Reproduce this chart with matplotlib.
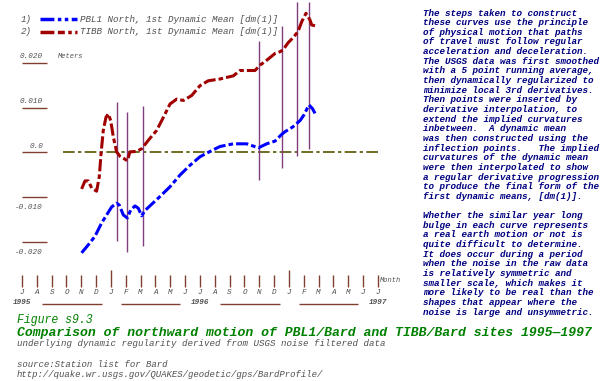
import matplotlib.pyplot as plt
import matplotlib.transforms as mtransforms
from matplotlib.lines import Line2D

# --- data (months counted from Jul 1995 = 0, values in meters) ---
pbl1_m = [4.02, 4.47, 4.92, 5.37, 5.71, 6.05, 6.38, 6.56, 6.83, 7.10, 7.33, 7.62,
          7.84, 8.07, 8.30, 8.75, 9.30, 9.98, 10.65, 11.33, 12.0, 12.68, 13.35,
          14.25, 15.15, 15.94, 16.5, 17.06, 17.51, 17.73, 18.27, 18.75, 19.0,
          19.35, 19.58, 19.76]
pbl1_v = [-0.0225, -0.0207, -0.0188, -0.0158, -0.0140, -0.0122, -0.0114, -0.0118,
          -0.0140, -0.0147, -0.0129, -0.0120, -0.0125, -0.0142, -0.0130, -0.0116,
          -0.0099, -0.0077, -0.0051, -0.0029, -0.0010, 0.0002, 0.0013, 0.0019,
          0.0019, 0.0010, 0.0019, 0.0025, 0.0040, 0.0046, 0.0057, 0.0071, 0.0083,
          0.0106, 0.0098, 0.0087]

tibb_m = [4.02, 4.25, 4.47, 4.70, 5.03, 5.21, 5.33, 5.48, 5.66, 5.82, 5.98, 6.16,
          6.38, 6.61, 6.88, 7.10, 7.28, 7.73, 8.07, 8.52, 9.08, 9.53, 9.98, 10.43,
          10.88, 11.44, 12.0, 12.56, 13.35, 14.25, 14.7, 15.71, 16.05, 16.39,
          17.06, 17.4, 17.6, 17.94, 18.27, 18.61, 18.86, 19.15, 19.42, 19.53, 19.76]
tibb_v = [-0.0082, -0.0064, -0.0064, -0.0080, -0.0087, -0.0055, -0.0003, 0.0049,
          0.0078, 0.0086, 0.0071, 0.0034, 0.0001, -0.0009, -0.0014, -0.0019,
          0.0001, 0.0002, 0.0008, 0.0027, 0.0049, 0.0078, 0.0108, 0.0119, 0.0116,
          0.0127, 0.0149, 0.0160, 0.0164, 0.0171, 0.0183, 0.0183, 0.0195, 0.0203,
          0.0221, 0.0225, 0.0229, 0.0245, 0.0256, 0.0270, 0.0292, 0.0311, 0.0296,
          0.0285, 0.0283]

# inflection markers
mark_m = [6.43, 7.10, 8.14, 16.0, 17.55, 18.56, 19.33]
mark_top = [0.0113, 0.0091, 0.0104, 0.0249, 0.0282, 0.0337, 0.0337]
mark_bot = [-0.0199, -0.0224, -0.0210, -0.0062, -0.0035, -0.0008, 0.0007]

month_labels = list("JASONDJFMAMJJASONDJFMAMJJ")
month_pos = list(range(len(month_labels)))
jan_pos = [6, 18]
years = ["1995", "1996", "1997"]
year_pos = [0, 12, 24]

ytick_vals = [0.02, 0.01, 0.0, -0.01, -0.02]
ytick_labels = ["0.020", "0.010", "0.0", "-0.010", "-0.020"]

note_lines = [
    "The steps taken to construct",
    "these curves use the principle",
    "of physical motion that paths",
    "of travel must follow regular",
    "acceleration and deceleration.",
    "The USGS data was first smoothed",
    "with a 5 point running average,",
    "then dynamically regularized to",
    "minimize local 3rd derivatives.",
    "Then points were inserted by",
    "derivative interpolation, to",
    "extend the implied curvatures",
    "inbetween.  A dynamic mean",
    "was then constructed using the",
    "inflection points.   The implied",
    "curvatures of the dynamic mean",
    "were then interpolated to show",
    "a regular derivative progression",
    "to produce the final form of the",
    "first dynamic means, [dm(1)].",
    "",
    "Whether the similar year long",
    "bulge in each curve represents",
    "a real earth motion or not is",
    "quite difficult to determine.",
    "It does occur during a period",
    "when the noise in the raw data",
    "is relatively symmetric and",
    "smaller scale, which makes it",
    "more likely to be real than the",
    "shapes that appear where the",
    "noise is large and unsymmetric.",
]

W, H = 613, 381
FONT = "Liberation Mono"
BROWN = "#804030"
GRAY = "#505050"
PURPLE = "#7f3f7f"


def fx(px):
    return px / W


def fy(py):
    return 1 - py / H


fig = plt.figure(figsize=(W / 100, H / 100), dpi=100)
ax = fig.add_axes([0, 0, 1, 1])
# pixel mapping: x = 22 + 14.83*month, y = 152.3 - 4470*value
ax.set_xlim(-22 / 14.83, (W - 22) / 14.83)
ax.set_ylim((152.3 - H) / 4470, 152.3 / 4470)
ax.axis("off")

xt = ax.get_xaxis_transform()
yt = ax.get_yaxis_transform()

# zero line
ax.hlines(0, fx(63), fx(380), transform=yt, color="#555500", lw=1.2,
          linestyles=(0, (7, 2, 2, 2)))

# markers
ax.vlines(mark_m, mark_bot, mark_top, color=PURPLE, lw=1.0)

# curves
ax.plot(tibb_m, tibb_v, color="#a00000", lw=2.2, ls=(0, (4, 1, 1.5, 1)))
ax.plot(pbl1_m, pbl1_v, color="#0000ff", lw=2.2, ls=(0, (4, 1, 1.5, 1)))

# y ticks
ax.hlines(ytick_vals, fx(22), fx(47), transform=yt, color=BROWN, lw=1.0)
for v, lab in zip(ytick_vals, ytick_labels):
    dy = 4.5 if v >= 0 else -7.5
    tr = mtransforms.offset_copy(yt, fig=fig, y=dy, units="points")
    ax.text(fx(43), v, lab, transform=tr, ha="right", va="center",
            family=FONT, style="italic", fontsize=5.5, color=GRAY)
ax.text(fx(58), fy(57), "Meters", transform=ax.transAxes, ha="left", va="center",
        family=FONT, style="italic", fontsize=5, color=GRAY)

# month axis
minor = [m for m in month_pos if m not in jan_pos]
ax.vlines(minor, fy(287), fy(275), transform=xt, color=BROWN, lw=1.0)
ax.vlines(jan_pos, fy(287), fy(270), transform=xt, color=BROWN, lw=1.0)
for m, lab in zip(month_pos, month_labels):
    ax.text(m, fy(293), lab, transform=xt, ha="center", va="center",
            family=FONT, style="italic", fontsize=5.5, color=GRAY)
for m, lab in zip(year_pos, years):
    ax.text(m, fy(303), lab, transform=xt, ha="center", va="center",
            family=FONT, style="italic", weight="bold", fontsize=5.5, color=GRAY)
for a, b in [(1.35, 5.4), (6.65, 10.65), (13.35, 17.4), (18.65, 22.65)]:
    ax.hlines(fy(303.5), a, b, transform=xt, color=BROWN, lw=1.0)
ax.text(fx(380), fy(280), "Month", transform=ax.transAxes, ha="left", va="center",
        family=FONT, style="italic", fontsize=5, color=GRAY)

# legend
fig.add_artist(Line2D([fx(40), fx(77)], [fy(19), fy(19)], color="#0000ff", lw=2.5,
                      ls=(0, (4, 1, 1, 1, 1, 1))))
fig.add_artist(Line2D([fx(40), fx(77)], [fy(32), fy(32)], color="#a00000", lw=2.5,
                      ls=(0, (4, 1, 2, 1, 1, 1))))
for py, num, txt in [(19, "1)", "PBL1 North, 1st Dynamic Mean [dm(1)]"),
                     (32, "2)", "TIBB North, 1st Dynamic Mean [dm(1)]")]:
    fig.text(fx(32), fy(py), num, ha="right", va="center", family=FONT,
             style="italic", fontsize=6.7, color=GRAY)
    fig.text(fx(80), fy(py), txt, ha="left", va="center", family=FONT,
             style="italic", fontsize=6.7, color=GRAY)

# notes on the right
for i, line in enumerate(note_lines):
    fig.text(fx(423), fy(13 + i * 9.65), line, ha="left", va="center",
             family=FONT, style="italic", weight="bold", fontsize=6.65,
             color="#000080")

# captions
fig.text(fx(17), fy(320), "Figure s9.3", ha="left", va="center", family=FONT,
         style="italic", fontsize=8.3, color="#008000")
fig.text(fx(17), fy(333), "Comparison of northward motion of PBL1/Bard and "
         "TIBB/Bard sites 1995\u20141997", ha="left", va="center", family=FONT,
         style="italic", weight="bold", fontsize=9.45, color="#008000")
fig.text(fx(17), fy(344), "underlying dynamic regularity derived from USGS "
         "noise filtered data", ha="left", va="center", family=FONT,
         style="italic", fontsize=6.6, color=GRAY)
fig.text(fx(17), fy(364.5), "source:Station list for Bard", ha="left",
         va="center", family=FONT, style="italic", fontsize=6.5, color=GRAY)
fig.text(fx(17), fy(374.5), "http://quake.wr.usgs.gov/QUAKES/geodetic/gps/"
         "BardProfile/", ha="left", va="center", family=FONT, style="italic",
         fontsize=6.5, color=GRAY)

fig.savefig("out.png", dpi=100, facecolor="white")
